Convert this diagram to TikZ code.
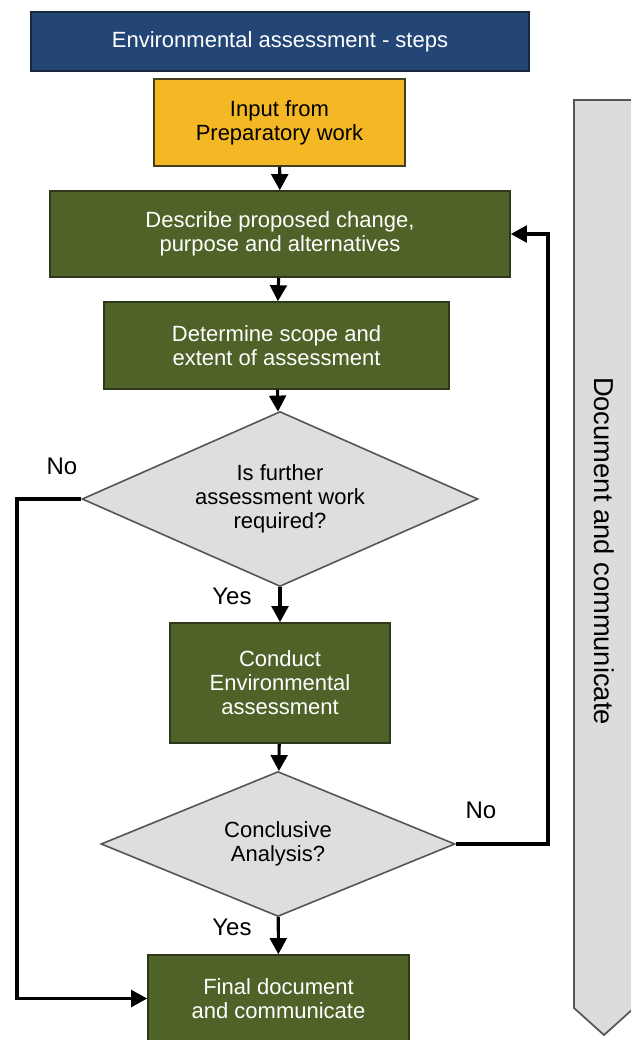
\documentclass[tikz,border=0pt]{standalone}
\usepackage{fontspec}
\setmainfont{Liberation Sans}
\usetikzlibrary{arrows.meta,positioning,shapes.geometric}

\definecolor{titleblue}{RGB}{36,70,118}
\definecolor{inputyellow}{RGB}{244,184,36}
\definecolor{stepgreen}{RGB}{79,98,40}
\definecolor{decisiongray}{RGB}{222,222,224}
\definecolor{bandgray}{RGB}{220,220,220}

\tikzset{
  txt/.style={font=\fontsize{16.5pt}{18pt}\selectfont, align=center},
  titlebox/.style={txt, rectangle, fill=titleblue, draw={rgb,255:red,25;green,40;blue,60}, line width=1.2pt, text=white, minimum width=373.5pt, minimum height=44.25pt},
  inputbox/.style={txt, rectangle, fill=inputyellow, draw={rgb,255:red,70;green,60;blue,30}, line width=1.2pt, text=black},
  stepbox/.style={txt, rectangle, fill=stepgreen, draw={rgb,255:red,45;green,55;blue,25}, line width=1.2pt, text=white},
  decision/.style={txt, diamond, fill=decisiongray, draw={rgb,255:red,85;green,85;blue,85}, line width=1.2pt, inner sep=0pt, text=black},
  flow/.style={-{Triangle[length=12pt,width=12.5pt]}, line width=2.3pt, black},
  answer/.style={font=\fontsize{18pt}{20pt}\selectfont}
}

\begin{document}
\begin{tikzpicture}[x=0.75pt, y=-0.75pt]
    \useasboundingbox (0,0) rectangle (631,1040);

    % Side band
    \draw[fill=bandgray, draw={rgb,255:red,85;green,85;blue,85}, line width=1.3pt]
      (574,100) -- (634,100) -- (634,1008) -- (604,1035) -- (574,1008) -- cycle;
    \node[rotate=-90, font=\fontsize{20.5pt}{22pt}\selectfont] (band) at (604,551) {Document and communicate};

    % Steps
    \node[titlebox] (title) at (280,41.5) {Environmental assessment - steps};
    \node[inputbox, minimum width=188.25pt, minimum height=65.25pt] (input) at (279.5,122.5) {Input from\\Preparatory work};
    \node[stepbox, minimum width=345pt, minimum height=64.5pt] (describe) at (280,234) {Describe proposed change,\\purpose and alternatives};
    \node[stepbox, minimum width=258.75pt, minimum height=65.25pt] (scope) at (276.5,345.5) {Determine scope and\\extent of assessment};
    \node[decision, aspect=2.26, minimum width=297pt, minimum height=131.25pt] (further) at (280,499) {Is further\\assessment work\\required?};
    \node[stepbox, minimum width=165pt, minimum height=90pt] (conduct) at (280,683) {Conduct\\Environmental\\assessment};
    \node[decision, aspect=2.44, minimum width=265.5pt, minimum height=108.75pt] (conclusive) at (278,844) {Conclusive\\Analysis?};
    \node[stepbox, minimum width=195.75pt, minimum height=65.25pt] (final) at (278.5,998.5) {Final document\\and communicate};

    % Rails
    \coordinate (leftrail) at (17,499);
    \coordinate (rightrail) at (548,844);

    % Connectors
    \draw[flow] (input) -- (describe);
    \draw[flow] (describe) -- (scope);
    \draw[flow] (scope) -- (further);
    \draw[flow] (further) -- (conduct);
    \draw[flow] (conduct) -- (conclusive);
    \draw[flow] (conclusive) -- (final);
    \draw[flow] (further.west) -- (leftrail) |- (final.west);
    \draw[flow] (conclusive.east) -- (rightrail) |- (describe.east);

    % Answers
    \node[answer] (nofurther) at (62,466) {No};
    \node[answer] (yesfurther) at (232,596) {Yes};
    \node[answer] (noconclusive) at (481,810) {No};
    \node[answer] (yesconclusive) at (232,927) {Yes};
\end{tikzpicture}
\end{document}
